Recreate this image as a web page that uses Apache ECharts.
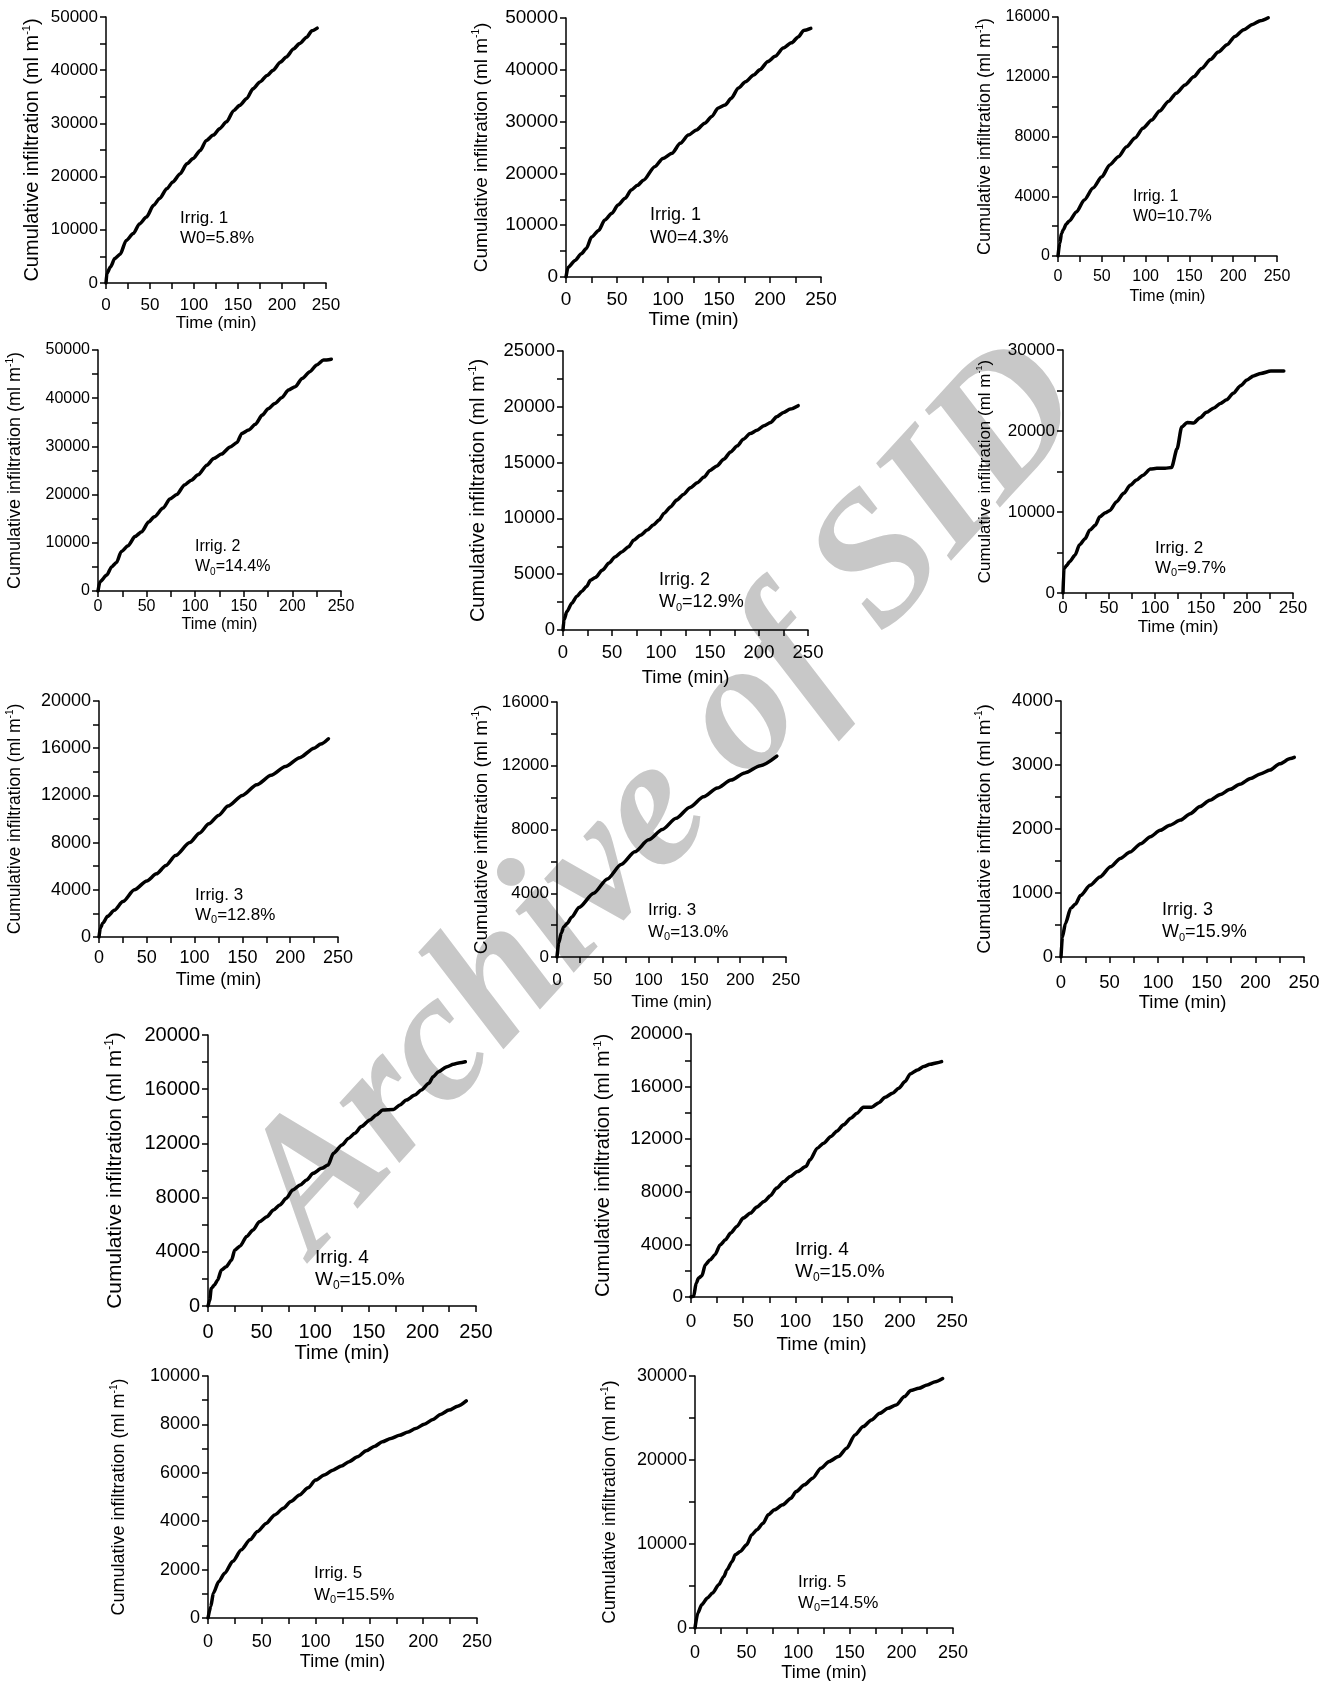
<!DOCTYPE html>
<html><head><meta charset="utf-8">
<script src="https://cdn.jsdelivr.net/npm/echarts@6/dist/echarts.min.js"></script>
<style>html,body{margin:0;padding:0;background:#fff}#c{width:1342px;height:1681px}</style>
</head><body><div id="c"></div>
<script>
// ---------------- DATA ----------------
const time_p1  = [0,1,5,10,16,23,31,38,46,54,61,69,76,84,92,99,107,114,122,129,137,145,152,160,167,175,183,190,198,205,213,220,228,234,240];
const infil_p1 = [0,1800,3000,4600,5400,8000,9300,11100,12400,14600,15900,17700,19000,20500,22400,23400,24900,26800,27800,29000,30300,32400,33400,34700,36500,37800,39000,40000,41500,42500,44000,45000,46200,47400,47900];

const time_p2  = [0,2,9,15,20,25,32,38,45,51,58,64,70,76,87,95,104,112,120,128,136,143,149,156,162,169,176,184,190,198,205,213,221,228,233,240];
const infil_p2 = [0,1900,3200,4500,5500,7700,9000,11000,12300,13900,15200,16800,17700,18700,21300,22900,23900,25800,27400,28400,29700,31000,32600,33200,34500,36500,37700,39000,40000,41600,42600,44200,45200,46400,47600,48000];

const time_p3  = [0,2,4,6,9.5,13,21,30,40,50,59,69,78,88,97,107,116,126,135,145,155,164,174,183,193,202,212,222,231,240];
const infil_p3 = [0,850,1500,1750,2150,2350,2950,3750,4550,5300,6100,6650,7300,7900,8550,9100,9700,10350,10900,11450,12000,12550,13150,13650,14150,14700,15150,15500,15750,15950];

const time_p4  = [0,2,9,14,19,24,31,38,45,52,58,67,74,81,89,96,103,112,119,127,136,143,148,155,162,169,175,182,189,196,203,210,218,225,232,240];
const infil_p4 = [0,1900,3300,5000,5900,8200,9400,11300,12300,14300,15400,17200,19100,20000,22000,23000,24100,26100,27500,28400,29900,30800,32700,33400,34600,36500,37800,38900,40100,41700,42400,44100,45500,46900,47900,48100];

const time_p5  = [0,1,4,9,14,19,24,28,33,40,47,53,60,67,72,79,86,92,98,103,110,116,123,130,137,144,150,157,164,171,178,184,191,198,205,212,218,225,232,240];
const infil_p5 = [0,900,1650,2400,3000,3450,3900,4450,4700,5350,6000,6550,7000,7450,8050,8500,8950,9400,9850,10450,11050,11650,12150,12750,13200,13700,14300,14700,15300,15950,16500,17100,17600,17900,18300,18600,19100,19500,19800,20100];

const time_p6  = [0,1,4,7,13,18,24,29,35,40,46,51,58,66,73,80,87,95,102,111,118,124,129,135,142,149,156,164,171,178,185,193,200,207,215,226,240];
const infil_p6 = [0,3000,3400,3850,4650,5950,6700,7750,8350,9400,9900,10200,11250,12300,13300,13950,14550,15300,15400,15400,15500,17800,20500,21050,21000,21650,22300,22850,23400,23850,24650,25600,26300,26800,27100,27400,27400];

const time_p7  = [0,1.4,4,9,16,25,37,50,60,70,80,95,105,115,125,135,150,165,180,195,210,225,232,240];
const infil_p7 = [0,760,1180,1750,2260,3000,4000,4750,5350,6050,6900,8000,8800,9600,10300,11100,12000,12900,13700,14450,15200,16000,16350,16800];

const time_p8  = [0,1.8,4.7,7.3,11,16,24,40,55,70,85,100,115,130,145,160,175,190,205,222,240];
const infil_p8 = [0,880,1500,1880,2100,2500,3100,4000,4900,5800,6600,7350,8000,8700,9400,10050,10600,11100,11550,12000,12600];

const time_p9  = [0,1.4,4.5,10,15,20,30,40,51,61,71,82,92,102,112,123,133,143,153,164,174,184,195,205,215,225,236,240];
const infil_p9 = [0,310,520,760,830,960,1120,1250,1410,1540,1640,1770,1880,1980,2060,2140,2240,2350,2450,2540,2620,2700,2790,2860,2920,3020,3100,3120];

const time_p10  = [0,1.6,3,6,9,12.5,17,22,25,30,36,42,48,55,61,67,73,79,86,92,98,106,112,117,125,131,137,143,151,157,163,173,179,185,193,199,206,210,215,223,229,235,240];
const infil_p10 = [0,440,1300,1550,1920,2660,2900,3400,4130,4430,5120,5610,6220,6590,7080,7450,7950,8560,8930,9300,9790,10160,10400,11270,11880,12370,12740,13240,13730,14100,14460,14510,14830,15200,15570,15940,16430,16920,17290,17660,17840,17960,18030];

const time_p11  = [0,2.5,5,7.3,10.5,13.7,18.5,23,28,33,38,44,50,57,63,70,76,82,89,95,102,110,114,121,127,134,140,146,153,159,165,173,180,186,193,199,205,210,217,223,229,236,240];
const infil_p11 = [0,50,1060,1440,1620,2460,2840,3220,3970,4350,4860,5370,6000,6380,6840,7270,7700,8280,8780,9160,9540,9920,10430,11320,11700,12200,12630,13090,13590,13970,14430,14430,14780,15190,15490,15870,16380,16960,17270,17520,17700,17820,17900];

const time_p12  = [0,2.6,5,10,15.5,23,31,39,46,54,62,70,77,85,93,100,108,116,124,131,139,147,155,162,170,178,186,193,201,209,216,224,232,240];
const infil_p12 = [0,480,1030,1510,1850,2340,2820,3230,3570,3910,4260,4530,4810,5080,5380,5700,5910,6110,6280,6460,6660,6910,7100,7280,7420,7550,7690,7830,8010,8200,8410,8590,8750,8970];

const time_p13  = [0,2.7,6.5,12,17,23,28,31,36,39,44,50,55,60,66,71,77,85,93,98,106,114,122,130,139,147,155,163,171,179,187,195,203,209,217,225,233,240];
const infil_p13 = [0,1780,2770,3570,4160,5150,6140,6940,7930,8720,9120,9910,11100,11690,12480,13480,14070,14660,15460,16250,17040,17840,19030,19820,20410,21400,22990,23980,24770,25560,26160,26550,27550,28260,28540,28930,29330,29700];

const seriesTime  = [time_p1,time_p2,time_p3,time_p4,time_p5,time_p6,time_p7,time_p8,time_p9,time_p10,time_p11,time_p12,time_p13];
const seriesInfil = [infil_p1,infil_p2,infil_p3,infil_p4,infil_p5,infil_p6,infil_p7,infil_p8,infil_p9,infil_p10,infil_p11,infil_p12,infil_p13];

// axis ticks
const xAxisMax = 250, xAxisStep = 50;
const yAxisMax  = [50000,50000,16000,50000,25000,30000,20000,16000,4000,20000,20000,10000,30000];
const yAxisStep = [10000,10000,4000,10000,5000,10000,4000,4000,1000,4000,4000,2000,10000];

// annotation texts
const irrigText = ['Irrig. 1','Irrig. 1','Irrig. 1','Irrig. 2','Irrig. 2','Irrig. 2','Irrig. 3','Irrig. 3','Irrig. 3','Irrig. 4','Irrig. 4','Irrig. 5','Irrig. 5'];
const w0Value   = ['5.8%','4.3%','10.7%','14.4%','12.9%','9.7%','12.8%','13.0%','15.9%','15.0%','15.0%','15.5%','14.5%'];
const w0Sub     = [false,false,false,true,true,true,true,true,true,true,true,true,true];

const xName = 'Time (min)';
const yName = 'Cumulative infiltration (ml m{sup|-1})';
const watermark = 'Archive of SID';

// ---------------- LAYOUT ----------------
const layout = [
 {grid:[106,17,220,266],  tick:17, title:20,  yDist:74, xLab:305,  xNm:323,  ann:[180,218,238],   annF:17},
 {grid:[566,18,255,259],  tick:19, title:19,  yDist:84, xLab:300,  xNm:320,  ann:[650,215,238],   annF:18},
 {grid:[1058,17,219,239], tick:16, title:18,  yDist:73, xLab:277,  xNm:297,  ann:[1133,197,217],  annF:16},
 {grid:[98,350,243,241],  tick:16, title:18,  yDist:83, xLab:607,  xNm:625,  ann:[195,547,567],   annF:16},
 {grid:[563,351,245,279], tick:18.5, title:20, yDist:85, xLab:653, xNm:678,  ann:[659,580,602],   annF:18},
 {grid:[1063,350,230,243],tick:17, title:17,  yDist:78, xLab:608,  xNm:627,  ann:[1155,548,568],  annF:17},
 {grid:[99,701,239,236],  tick:18, title:17.5,yDist:84, xLab:958,  xNm:980,  ann:[195,895,915],   annF:17},
 {grid:[557,702,229,255], tick:17, title:19,  yDist:75, xLab:980,  xNm:1002, ann:[648,910,932],   annF:17},
 {grid:[1061,701,243,256],tick:18.5, title:19,yDist:76, xLab:983,  xNm:1003, ann:[1162,910,932],  annF:18},
 {grid:[208,1035,268,271],tick:20, title:21,  yDist:93, xLab:1332, xNm:1353, ann:[315,1258,1280], annF:19},
 {grid:[691,1034,261,263],tick:19, title:20,  yDist:88, xLab:1322, xNm:1345, ann:[795,1250,1272], annF:19},
 {grid:[208,1376,269,242],tick:18, title:18,  yDist:89, xLab:1642, xNm:1662, ann:[314,1573,1595], annF:17},
 {grid:[695,1376,258,252],tick:18, title:18.5,yDist:85, xLab:1653, xNm:1673, ann:[798,1582,1603], annF:17}
];

const FONT = '"Liberation Sans", Arial, Helvetica, sans-serif';
const BLACK = '#000';
const plain = v => String(v);

const grids = [], xAxes = [], yAxes = [], series = [], graphics = [];

graphics.push({
  type:'text', x:667, y:800, rotation: 47.5*Math.PI/180, z:-10, silent:true,
  style:{text:watermark, fill:'#c8c8c8', fontSize:185, fontFamily:'"Liberation Serif", "Times New Roman", serif',
         fontWeight:'bold', fontStyle:'italic', align:'center', verticalAlign:'middle'}
});

layout.forEach((L, i) => {
  const [l,t,w,h] = L.grid;
  grids.push({left:l, top:t, width:w, height:h, containLabel:false, outerBoundsMode:'none'});
  const axisBottom = t + h;
  xAxes.push({
    type:'value', gridIndex:i, min:0, max:xAxisMax, interval:xAxisStep,
    axisLine:{show:true, onZero:false, lineStyle:{color:BLACK, width:1.5}},
    axisTick:{show:true, length:6, lineStyle:{color:BLACK, width:1.5}},
    minorTick:{show:true, splitNumber:2, length:6, lineStyle:{color:BLACK, width:1.5}},
    splitLine:{show:false},
    axisLabel:{color:BLACK, fontSize:L.tick, fontFamily:FONT, formatter:plain, margin: L.xLab - axisBottom - L.tick/2, hideOverlap:false, showMinLabel:true, showMaxLabel:true},
    name:xName, nameLocation:'middle', nameGap: L.xNm - axisBottom - L.tick/2,
    nameTextStyle:{color:BLACK, fontSize:L.tick, fontFamily:FONT}
  });
  yAxes.push({
    type:'value', gridIndex:i, min:0, max:yAxisMax[i], interval:yAxisStep[i],
    axisLine:{show:true, onZero:false, lineStyle:{color:BLACK, width:1.5}},
    axisTick:{show:true, length:6, lineStyle:{color:BLACK, width:1.5}},
    minorTick:{show:true, splitNumber:2, length:6, lineStyle:{color:BLACK, width:1.5}},
    splitLine:{show:false},
    axisLabel:{color:BLACK, fontSize:L.tick, fontFamily:FONT, formatter:plain, margin:8, hideOverlap:false, showMinLabel:true, showMaxLabel:true},
    name:yName, nameLocation:'middle', nameRotate:90, nameGap: L.yDist - (L.title+2)/2,
    nameTextStyle:{color:BLACK, fontSize:L.title, fontFamily:FONT, lineHeight:L.title+2,
      rich:{sup:{fontSize:Math.round(L.title*0.55), fontFamily:FONT, color:BLACK, verticalAlign:'top', lineHeight:Math.round(L.title*0.5)}}}
  });
  series.push({
    type:'line', xAxisIndex:i, yAxisIndex:i, showSymbol:false, symbol:'none',
    smooth:0.25, smoothMonotone:'x', animation:false, silent:true, z:3,
    lineStyle:{color:BLACK, width:3.5, cap:'round', join:'round'},
    data: seriesTime[i].map((tt, k) => [tt, seriesInfil[i][k]])
  });
  const [ax, ay1, ay2] = L.ann;
  graphics.push({type:'text', x:ax, y:ay1, silent:true, z:5,
    style:{text:irrigText[i], fill:BLACK, fontSize:L.annF, fontFamily:FONT, align:'left', verticalAlign:'middle'}});
  if (w0Sub[i]) {
    graphics.push({type:'text', x:ax, y:ay2, silent:true, z:5,
      style:{text:'{a|W}{s|0}{a|=' + w0Value[i] + '}', align:'left', verticalAlign:'middle',
        rich:{a:{fill:BLACK, fontSize:L.annF, fontFamily:FONT, lineHeight:L.annF+4, verticalAlign:'middle'},
              s:{fill:BLACK, fontSize:Math.round(L.annF*0.62), fontFamily:FONT, lineHeight:Math.round(L.annF*0.55), verticalAlign:'bottom'}}}});
  } else {
    graphics.push({type:'text', x:ax, y:ay2, silent:true, z:5,
      style:{text:'W0=' + w0Value[i], fill:BLACK, fontSize:L.annF, fontFamily:FONT, align:'left', verticalAlign:'middle'}});
  }
});

const chart = echarts.init(document.getElementById('c'), null, {renderer:'canvas'});
chart.setOption({
  backgroundColor:'#fff',
  animation:false,
  grid:grids, xAxis:xAxes, yAxis:yAxes, series:series,
  graphic:{elements:graphics}
});
</script>
</body></html>
